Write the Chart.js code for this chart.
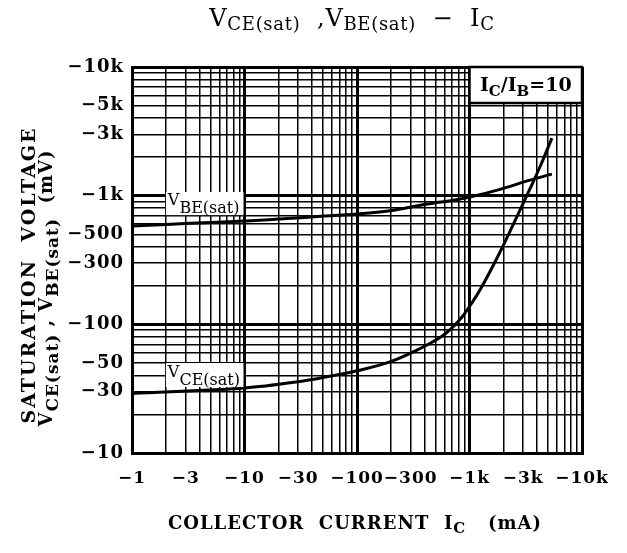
<!DOCTYPE html>
<html>
<head>
<meta charset="utf-8">
<script src="https://cdn.jsdelivr.net/npm/chart.js@4"></script>
<style>
  html, body { margin: 0; padding: 0; background: #fff; }
</style>
</head>
<body>
<canvas id="chart" width="627" height="553"></canvas>
<script>
// collector current (mA, magnitude) and saturation voltages (mV, magnitude)
const icVbe = [1, 3.3, 10, 24, 42, 100, 196, 420, 740, 1010, 1800, 3450, 5400];
const vbeValues = [581, 610, 635, 664, 686, 720, 763, 860, 925, 975, 1110, 1321, 1470];
const icVce = [1, 10, 30, 57, 106, 196, 341, 547, 699, 858, 1052, 1291, 1585, 2070, 2640, 3450, 4320, 5400];
const vceValues = [29, 32, 35.8, 39.5, 44, 51, 63, 79, 94, 114, 147, 197, 275, 438, 687, 1132, 1746, 2800];

const xTickLabels = [1, 3, 10, 30, 100, 300, 1000, 3000, 10000];
const yTickLabels = [10, 30, 50, 100, 300, 500, 1000, 3000, 5000, 10000];

const FAMILY = 'DejaVu Serif';

function gridTicks(min, max) {
  const out = [];
  for (let d = min; d < max; d *= 10) {
    for (let k = 1; k < 10; k++) out.push(k * d);
  }
  out.push(max);
  return out;
}

function fmt(v) {
  return '\u2212' + (v >= 1000 ? (v / 1000) + 'k' : v);
}

function isDecade(v) {
  return v && Math.abs(Math.log10(v) - Math.round(Math.log10(v))) < 1e-9;
}

// text with subscripts: parts = [[text, isSub], ...]
function drawRich(ctx, parts, x, y, o) {
  const w = o.weight || 'normal';
  ctx.save();
  ctx.fillStyle = '#000';
  ctx.textBaseline = 'alphabetic';
  ctx.textAlign = 'left';
  ctx.letterSpacing = (o.spacing || 0) + 'px';
  const widths = parts.map(([t, sub]) => {
    ctx.font = `${w} ${sub ? o.subSize : o.size}px "${FAMILY}"`;
    return ctx.measureText(t).width;
  });
  const total = widths.reduce((a, b) => a + b, 0);
  let cx = o.align === 'center' ? x - total / 2 : (o.align === 'right' ? x - total : x);
  parts.forEach(([t, sub], i) => {
    ctx.font = `${w} ${sub ? o.subSize : o.size}px "${FAMILY}"`;
    ctx.fillText(t, cx, y + (sub ? o.subDy : 0));
    cx += widths[i];
  });
  ctx.restore();
}

const annotations = {
  id: 'annotations',
  beforeDraw(chart) {
    chart.ctx.letterSpacing = '1px';
  },
  afterDatasetsDraw(chart) {
    const { ctx, scales: { x, y } } = chart;
    ctx.save();
    ctx.fillStyle = '#fff';
    // curve labels
    let l = x.getPixelForValue(2), r = x.getPixelForValue(9.8);
    let t = y.getPixelForValue(1067), b = y.getPixelForValue(706);
    ctx.fillRect(l, t, r - l, b - t);
    drawRich(ctx, [['V', 0], ['BE(sat)', 1]], l + 2, b - 10, { size: 16, subSize: 16, subDy: 8 });

    t = y.getPixelForValue(50); b = y.getPixelForValue(32.6);
    ctx.fillStyle = '#fff';
    ctx.fillRect(l, t, r - l, b - t);
    drawRich(ctx, [['V', 0], ['CE(sat)', 1]], l + 2, b - 10, { size: 16, subSize: 16, subDy: 8 });

    // condition box
    l = x.getPixelForValue(1000); r = x.getPixelForValue(10000);
    t = y.getPixelForValue(10000); b = y.getPixelForValue(5250);
    ctx.fillStyle = '#fff';
    ctx.fillRect(l, t, r - l, b - t);
    ctx.strokeStyle = '#000';
    ctx.lineWidth = 2.5;
    ctx.strokeRect(l, t, r - l, b - t);
    drawRich(ctx, [['I', 0], ['C', 1], ['/I', 0], ['B', 1], ['=10', 0]], (l + r) / 2, b - 12,
      { size: 19, subSize: 15, subDy: 5, weight: 'bold', align: 'center' });
    ctx.restore();
  },
  afterDraw(chart) {
    const { ctx } = chart;
    // chart title
    drawRich(ctx, [['V', 0], ['CE(sat)', 1], ['  ,V', 0], ['BE(sat)', 1], ['  \u2212  I', 0], ['C', 1]],
      352, 26, { size: 24, subSize: 18, subDy: 4, align: 'center', spacing: 0.7 });
    // x axis title
    drawRich(ctx, [['COLLECTOR  CURRENT  I', 0], ['C', 1], ['   (mA)', 0]],
      355, 529, { size: 18, subSize: 15, subDy: 4, weight: 'bold', align: 'center', spacing: 1 });
    // y axis title, two rotated lines
    ctx.save();
    ctx.translate(35, 275);
    ctx.rotate(-Math.PI / 2);
    drawRich(ctx, [['SATURATION  VOLTAGE', 0]], 0, 0, { size: 19, weight: 'bold', align: 'center', spacing: 2 });
    ctx.restore();
    ctx.save();
    ctx.translate(52, 288);
    ctx.rotate(-Math.PI / 2);
    drawRich(ctx, [['V', 0], ['CE(sat)', 1], [' , V', 0], ['BE(sat)', 1], ['  (mV)', 0]], 0, 0,
      { size: 18, subSize: 17, subDy: 6, weight: 'bold', align: 'center', spacing: 1 });
    ctx.restore();
  }
};

const gridWidth = c => {
  const v = c.tick && c.tick.value;
  return isDecade(v) ? 3 : 1.5;
};

new Chart(document.getElementById('chart'), {
  type: 'line',
  data: {
    datasets: [
      {
        label: 'VBE(sat)',
        data: icVbe.map((v, i) => ({ x: v, y: vbeValues[i] })),
        borderColor: '#000', borderWidth: 3, pointRadius: 0,
        tension: 0.35, fill: false
      },
      {
        label: 'VCE(sat)',
        data: icVce.map((v, i) => ({ x: v, y: vceValues[i] })),
        borderColor: '#000', borderWidth: 3, pointRadius: 0,
        tension: 0.35, fill: false
      }
    ]
  },
  options: {
    responsive: false,
    animation: false,
    devicePixelRatio: 1,
    layout: { padding: { top: 67, right: 45, left: 0, bottom: 0 } },
    plugins: { legend: { display: false }, tooltip: { enabled: false } },
    scales: {
      x: {
        type: 'logarithmic', min: 1, max: 10000,
        afterBuildTicks: s => { s.ticks = gridTicks(1, 10000).map(v => ({ value: v })); },
        afterFit: s => { s.height = 100; },
        grid: { color: '#000', lineWidth: gridWidth, drawTicks: false },
        border: { display: true, color: '#000', width: 3 },
        ticks: {
          autoSkip: false, maxRotation: 0, padding: 15, color: '#000',
          font: { family: FAMILY, weight: 'bold', size: 17 },
          callback: v => xTickLabels.includes(v) ? fmt(v) : ''
        }
      },
      y: {
        type: 'logarithmic', min: 10, max: 10000,
        afterBuildTicks: s => { s.ticks = gridTicks(10, 10000).map(v => ({ value: v })); },
        afterFit: s => { s.width = 132; },
        grid: { color: '#000', lineWidth: gridWidth, drawTicks: false },
        border: { display: true, color: '#000', width: 3 },
        ticks: {
          autoSkip: false, padding: 8, color: '#000',
          font: { family: FAMILY, weight: 'bold', size: 18 },
          callback: v => yTickLabels.includes(v) ? fmt(v) : ''
        }
      }
    }
  },
  plugins: [annotations]
});
</script>
</body>
</html>
